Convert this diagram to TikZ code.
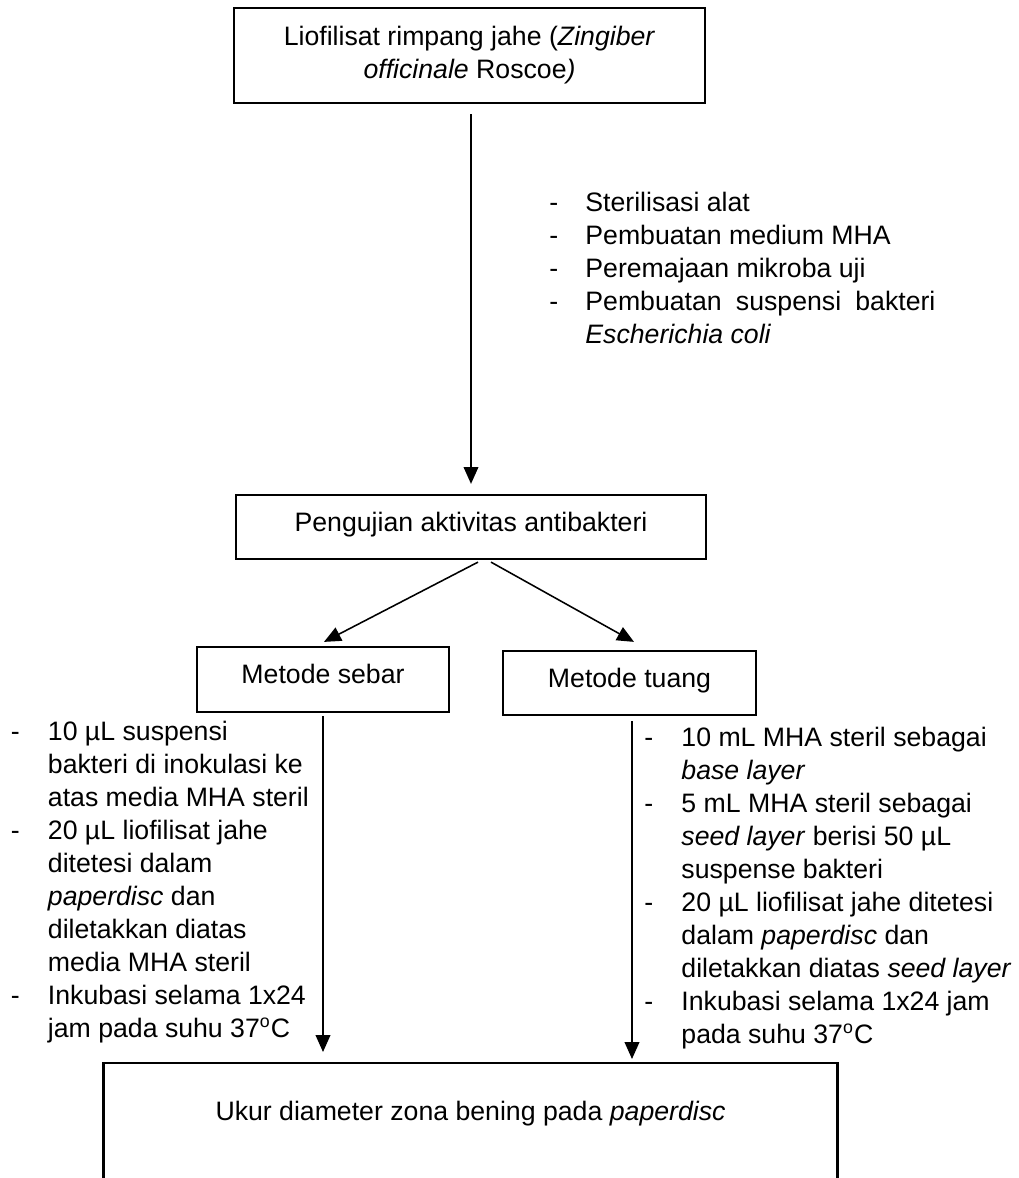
\documentclass[tikz,border=0pt]{standalone}
\usepackage{fontspec}
\setmainfont{Liberation Sans}
\usetikzlibrary{arrows.meta,calc}
\newcommand\myfs{\fontsize{12}{14.85}\selectfont}
\begin{document}
\begin{tikzpicture}[x=0.45pt,y=-0.45pt,
  box/.style={draw, line width=1pt, inner sep=0pt, align=center, font=\myfs},
  onebox/.style={box, text height=8.6pt, text depth=4.6pt},
  conn/.style={line width=0.7pt, -{Triangle[length=7.6pt,width=6.6pt]}},
  lst/.style={inner sep=0pt, anchor=base west, font=\myfs}]
\useasboundingbox (0,0) rectangle (1019,1178);

\node[box, minimum width=211.95pt, minimum height=42.75pt] (top) at (469.5,55.5)
  {Liofilisat rimpang jahe (\textit{Zingiber}\\\textit{officinale} Roscoe\textit{)}};
\node[onebox, minimum width=211.5pt, minimum height=28.8pt] (mid) at (471,527)
  {Pengujian aktivitas antibakteri};
\node[onebox, minimum width=113.4pt, minimum height=29.25pt] (sebar) at (323,679.5)
  {Metode sebar};
\node[onebox, minimum width=113.85pt, minimum height=28.8pt] (tuang) at (629.5,683)
  {Metode tuang};
\node[inner sep=0pt, anchor=north, minimum width=329.85pt, font=\myfs,
      text height=25.65pt, text depth=27pt] (ukur) at (470.5,1063)
  {Ukur diameter zona bening pada \textit{paperdisc}};
\draw[line width=1pt] (ukur.south west) -- (ukur.north west) -- (ukur.north east) -- (ukur.south east);

\node[lst] (prep) at (549,211) {\begin{tabular}[t]{@{}p{16.2pt}@{}l@{}}
-&Sterilisasi alat\\
-&Pembuatan medium MHA\\
-&Peremajaan mikroba uji\\
-&\makebox[157.5pt][s]{Pembuatan suspensi bakteri}\\
&\textit{Escherichia coli}
\end{tabular}};

\node[lst] (sebarlist) at (10.5,740) {\begin{tabular}[t]{@{}p{16.65pt}@{}l@{}}
-&10 µL suspensi\\
&bakteri di inokulasi ke\\
&atas media MHA steril\\
-&20 µL liofilisat jahe\\
&ditetesi dalam\\
&\textit{paperdisc} dan\\
&diletakkan diatas\\
&media MHA steril\\
-&Inkubasi selama 1x24\\
&jam pada suhu 37\textsuperscript{o}C
\end{tabular}};

\node[lst] (tuanglist) at (644,746) {\begin{tabular}[t]{@{}p{16.65pt}@{}l@{}}
-&10 mL MHA steril sebagai\\
&\textit{base layer}\\
-&5 mL MHA steril sebagai\\
&\textit{seed layer} berisi 50 µL\\
&suspense bakteri\\
-&20 µL liofilisat jahe ditetesi\\
&dalam \textit{paperdisc} dan\\
&diletakkan diatas \textit{seed layer}\\
-&Inkubasi selama 1x24 jam\\
&pada suhu 37\textsuperscript{o}C
\end{tabular}};

\draw[conn, shorten <=4.5pt, shorten >=4.5pt] (top.south -| mid.north) -- (mid.north);
\draw[conn] ($(mid.south)+(7,2)$) -- ($(sebar.north)+(1,-4)$);
\draw[conn] ($(mid.south)+(20,2)$) -- ($(tuang.north)+(4.5,-8)$);
\draw[conn, shorten <=1.35pt, shorten >=4.95pt] (sebar.south) -- (sebar.south |- ukur.north);
\coordinate (tb) at ($(tuang.south)+(2.5,0)$);
\draw[conn, shorten <=2.25pt, shorten >=1.8pt] (tb) -- (tb |- ukur.north);
\end{tikzpicture}
\end{document}
